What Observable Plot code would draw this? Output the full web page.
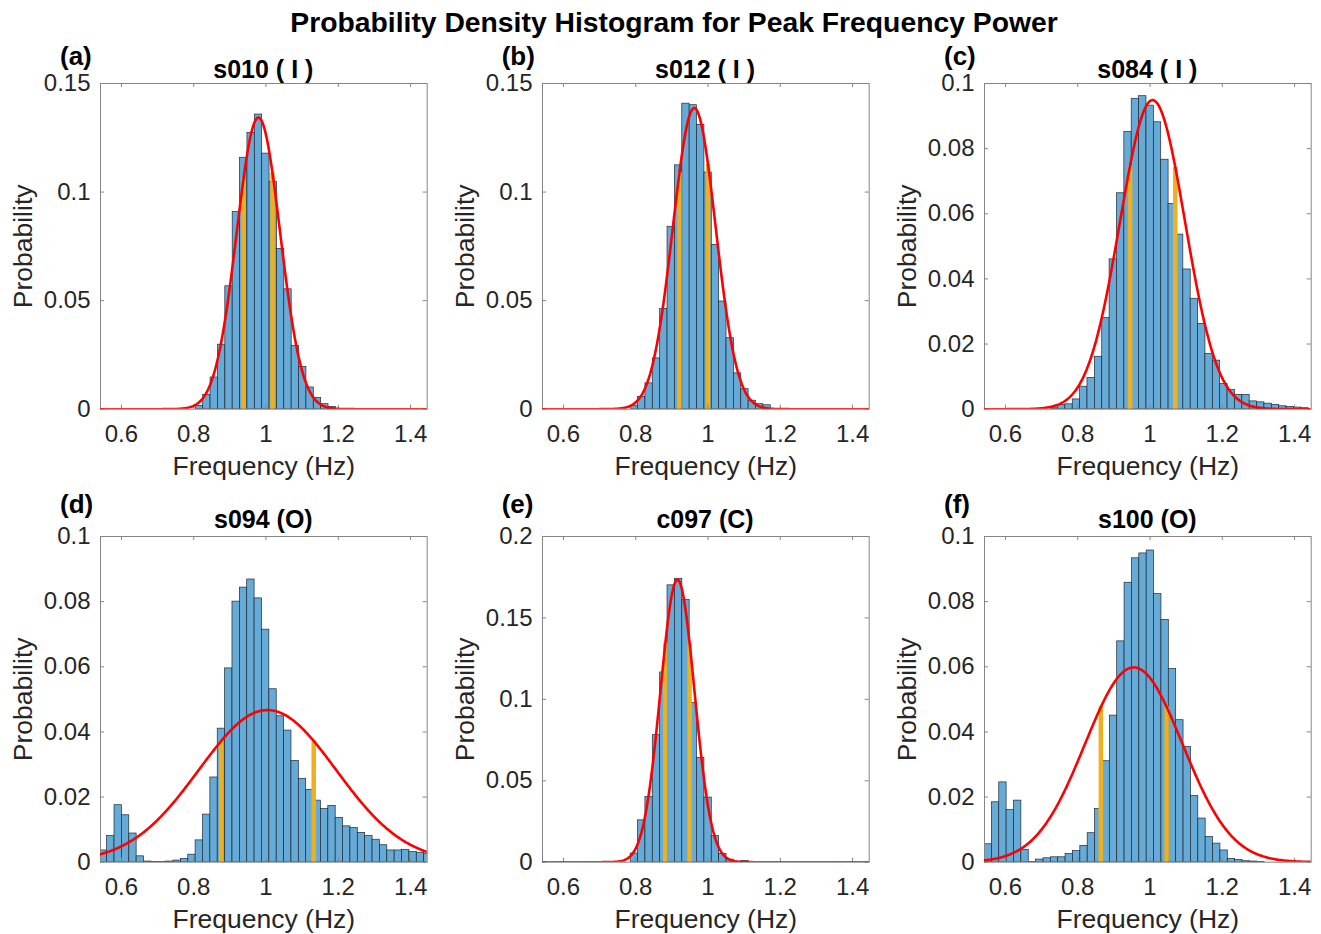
<!DOCTYPE html>
<html><head><meta charset="utf-8">
<script src="https://cdn.jsdelivr.net/npm/d3@7"></script>
<script src="https://cdn.jsdelivr.net/npm/@observablehq/plot@0.6"></script>
<style>
body{margin:0;background:#fff;}
#root{position:relative;width:1321px;height:934px;overflow:hidden;background:#fff;}
</style></head><body><div id="root"></div>
<script>
// ---------- data ----------
const figTitle = ["Probability Density Histogram for Peak Frequency Power"];
const panelLetters = ["(a)", "(b)", "(c)", "(d)", "(e)", "(f)"];
const panelTitles = ["s010 ( I )", "s012 ( I )", "s084 ( I )", "s094 (O)", "c097 (C)", "s100 (O)"];
const xLabel = ["Frequency (Hz)"];
const yLabel = ["Probability"];
const xDomain = [0.542, 1.446];
const xTicks = [0.6, 0.8, 1, 1.2, 1.4];
const yMax = [0.15, 0.15, 0.1, 0.1, 0.2, 0.1];
const yTicks005 = [0, 0.05, 0.1, 0.15];
const yTicks002 = [0, 0.02, 0.04, 0.06, 0.08, 0.1];
const yTicksE = [0, 0.05, 0.1, 0.15, 0.2];
const binWidth = 0.0204;
const binStart = [0.8058, 0.786, 0.725, 0.540, 0.786, 0.542];
const probA = [0.0015, 0.0066, 0.0146, 0.0297, 0.0566, 0.0908, 0.1158, 0.1272, 0.1357, 0.1177, 0.1046, 0.0738, 0.0552, 0.0292, 0.0195, 0.0100, 0.0051, 0.0023, 0.001];
const probB = [0.0015, 0.0057, 0.0119, 0.0234, 0.0462, 0.084, 0.1123, 0.1407, 0.140, 0.131, 0.109, 0.0757, 0.0496, 0.0327, 0.0165, 0.0092, 0.0039, 0.0023, 0.0018];
const probC = [0.0003, 0.0013, 0.0015, 0.003, 0.0069, 0.0096, 0.0161, 0.028, 0.046, 0.0663, 0.0851, 0.0953, 0.0961, 0.0932, 0.0881, 0.0766, 0.063, 0.0536, 0.0429, 0.0339, 0.0262, 0.017, 0.0149, 0.0077, 0.0059, 0.0044, 0.0044, 0.0024, 0.0021, 0.0017, 0.0013, 0.0009, 0.0007, 0.0005, 0.0003];
const probD = [0.0036, 0.008, 0.0175, 0.0144, 0.0088, 0.0018, 0.0002, 0.0001, 0.0001, 0.0002, 0.0005, 0.001, 0.0023, 0.0067, 0.0146, 0.026, 0.041, 0.0595, 0.08, 0.0843, 0.0868, 0.081, 0.0714, 0.0531, 0.0448, 0.0404, 0.0311, 0.0256, 0.0222, 0.0189, 0.0163, 0.0173, 0.0136, 0.011, 0.0105, 0.009, 0.008, 0.0069, 0.0052, 0.0036, 0.0036, 0.0038, 0.0031, 0.0029, 0.0026];
const probE = [0.0053, 0.0257, 0.040, 0.078, 0.1165, 0.170, 0.174, 0.161, 0.0977, 0.064, 0.0397, 0.016, 0.0051, 0.0016, 0.0002, 0.0008];
const probF = [0.0055, 0.0184, 0.0245, 0.016, 0.0189, 0.0038, 0.0001, 0.0008, 0.0012, 0.0015, 0.0015, 0.0025, 0.0034, 0.005, 0.0089, 0.0163, 0.031, 0.045, 0.0678, 0.0858, 0.0933, 0.0948, 0.0957, 0.0823, 0.0744, 0.0593, 0.0436, 0.0354, 0.0203, 0.0134, 0.0077, 0.0057, 0.0036, 0.001, 0.0007, 0.0003, 0.0002, 0.0001];
// fitted normal curves (mean, sigma, peak height) and yellow marker positions
const fitMean = [0.979, 0.962, 1.007, 1.004, 0.9155, 0.955];
const fitSigma = [0.060, 0.059, 0.090, 0.190, 0.047, 0.135];
const fitPeak = [0.1343, 0.1387, 0.0949, 0.0467, 0.1735, 0.0598];
const markerLow = [0.938, 0.921, 0.945, 0.876, 0.882, 0.864];
const markerHigh = [1.018, 1.000, 1.070, 1.132, 0.949, 1.046];

// ---------- layout ----------
const probs = [probA, probB, probC, probD, probE, probF];
const yTickSets = [yTicks005, yTicks005, yTicks002, yTicks002, yTicksE, yTicks002];
const frameLeft = [100, 541.7, 984];
const frameTop = [83.3, 535.7];
const frameW = 326.7, frameH = 325.7;
const mL = 100, mR = 10, mT = 10, mB = 80;
const font = "'Liberation Sans', Arial, Helvetica, sans-serif";
const axisColor = "#858585";
const root = document.getElementById("root");

const fmt = d => String(d);

for (let i = 0; i < 6; i++) {
  const col = i % 3, row = Math.floor(i / 3);
  const bars = probs[i].map((h, k) => ({x1: binStart[i] + k * binWidth, x2: binStart[i] + (k + 1) * binWidth, h}));
  const g = x => fitPeak[i] * Math.exp(-((x - fitMean[i]) ** 2) / (2 * fitSigma[i] ** 2));
  const curve = d3.range(0, 401).map(k => {
    const x = xDomain[0] + (xDomain[1] - xDomain[0]) * k / 400;
    return {x, y: g(x)};
  });
  const markers = [markerLow[i], markerHigh[i]].map(x => ({x, h: g(x)}));
  const yT = yTickSets[i];

  const svg = Plot.plot({
    width: mL + frameW + mR,
    height: mT + frameH + mB,
    marginLeft: mL, marginRight: mR, marginTop: mT, marginBottom: mB,
    style: {fontFamily: font, fontSize: "24px", color: "#262626", background: "transparent", overflow: "visible"},
    x: {domain: xDomain},
    y: {domain: [0, yMax[i]]},
    marks: [
      Plot.rectY(bars, {x1: "x1", x2: "x2", y: "h", fill: "#66AAD7", stroke: "#1f2a33", strokeWidth: 0.7, clip: true}),
      Plot.ruleX(markers, {x: "x", y1: 0, y2: "h", stroke: "#EDB120", strokeWidth: 4.5}),
      Plot.frame({stroke: axisColor, strokeWidth: 1}),
      Plot.ruleX(xTicks, {x: d => d, insetTop: frameH - 4, stroke: axisColor}),
      Plot.ruleX(xTicks, {x: d => d, insetBottom: frameH - 4, stroke: axisColor}),
      Plot.ruleY(yT, {y: d => d, insetRight: frameW - 4, stroke: axisColor}),
      Plot.ruleY(yT, {y: d => d, insetLeft: frameW - 4, stroke: axisColor}),
      Plot.line(curve, {x: "x", y: "y", stroke: "#FF0000", strokeWidth: 2.6, clip: true}),
      Plot.axisX({ticks: xTicks, tickSize: 0, tickPadding: 16, tickFormat: fmt, fontSize: 24, color: "#262626"}),
      Plot.axisY({ticks: yT, tickSize: 0, tickPadding: 10, tickFormat: fmt, fontSize: 24, color: "#262626"}),
      Plot.text(xLabel, {text: d => d, frameAnchor: "bottom", lineAnchor: "top", textAnchor: "middle", dy: 47, fontSize: 26.5, fill: "#262626"}),
      Plot.text(yLabel, {text: d => d, frameAnchor: "left", lineAnchor: "middle", textAnchor: "middle", rotate: -90, dx: -77, fontSize: 26.5, fill: "#262626"})
    ]
  });
  svg.style.position = "absolute";
  svg.style.left = (frameLeft[col] - mL) + "px";
  svg.style.top = (frameTop[row] - mT) + "px";
  root.appendChild(svg);
}

// ---------- titles and panel labels ----------
const ov = d3.select(root).append("svg")
  .attr("width", 1321).attr("height", 934)
  .style("position", "absolute").style("left", "0px").style("top", "0px")
  .style("font-family", font).style("pointer-events", "none");

ov.selectAll("text.title").data(figTitle).join("text")
  .attr("x", 674).attr("y", 32.3).attr("text-anchor", "middle")
  .attr("font-size", 28.3).attr("font-weight", "bold").attr("fill", "#000").text(d => d);

const letterBase = [64.5, 512.5];
const subBase = [77.5, 527.5];
panelLetters.forEach((t, i) => {
  const col = i % 3, row = Math.floor(i / 3);
  ov.append("text").attr("x", frameLeft[col] - 40).attr("y", letterBase[row])
    .attr("font-size", 26).attr("font-weight", "bold").attr("fill", "#000").text(t);
  ov.append("text").attr("x", frameLeft[col] + frameW / 2).attr("y", subBase[row])
    .attr("text-anchor", "middle").attr("font-size", 25).attr("font-weight", "bold").attr("fill", "#000").text(panelTitles[i]);
});
</script></body></html>
